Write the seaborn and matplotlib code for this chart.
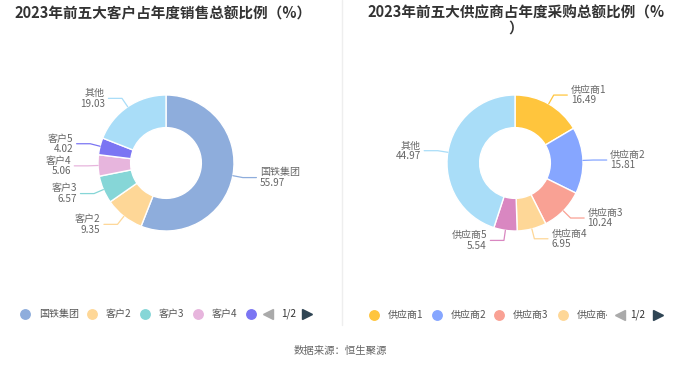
import numpy as np
import matplotlib
matplotlib.use("Agg")
import matplotlib.pyplot as plt
import seaborn as sns
from matplotlib.transforms import Bbox, TransformedBbox

sns.set_theme(style="white")
plt.rcParams['font.family'] = ['Noto Sans CJK SC', 'DejaVu Sans']

# 数据
kunden_namen = ['国铁集团', '客户2', '客户3', '客户4', '客户5', '其他']
kunden_werte = [55.97, 9.35, 6.57, 5.06, 4.02, 19.03]
kunden_farben = ['#8eaddc', '#fed797', '#86d6d7', '#e7b5dd', '#7b75f3', '#a9ddf8']

liefer_namen = ['供应商1', '供应商2', '供应商3', '供应商4', '供应商5', '其他']
liefer_werte = [16.49, 15.81, 10.24, 6.95, 5.54, 44.97]
liefer_farben = ['#ffc53d', '#86a6ff', '#f9a194', '#fed797', '#d987c1', '#a9ddf8']

titel_links = '2023年前五大客户占年度销售总额比例（%）'
titel_rechts = '2023年前五大供应商占年度采购总额比例（%\n）'
quelle = '数据来源：恒生聚源'

W, H = 680, 367
R = 68.0  # Radius in Pixel
fig = plt.figure(figsize=(W / 100, H / 100), dpi=100)
fig.patch.set_facecolor('white')


def mach_donut(cx, cy, namen, werte, farben):
    aw, ah = 320, 240
    ax = fig.add_axes([(cx - aw / 2) / W, (H - cy - ah / 2) / H, aw / W, ah / H])
    wedges, _ = ax.pie(werte, colors=farben, startangle=90, counterclock=False,
                       wedgeprops=dict(width=0.48, edgecolor='white', linewidth=1))
    ax.set_xlim(-aw / 2 / R, aw / 2 / R)
    ax.set_ylim(-ah / 2 / R, ah / 2 / R)
    ax.set_aspect('auto')
    ax.axis('off')
    for w, name, wert, farbe in zip(wedges, namen, werte, farben):
        mitte = np.deg2rad((w.theta1 + w.theta2) / 2)
        c, s = np.cos(mitte), np.sin(mitte)
        p0 = (1.0 * c, 1.0 * s)
        p1 = (1.15 * c, 1.15 * s)
        seite = 1 if c >= 0 else -1
        p2 = (p1[0] + seite * 0.2, p1[1])
        ax.plot([p0[0], p1[0], p2[0]], [p0[1], p1[1], p2[1]],
                color=farbe, lw=0.9, clip_on=False)
        ax.text(p2[0] + seite * 0.05, p2[1], f'{name}\n{wert:.2f}',
                ha='left' if seite > 0 else 'right', va='center',
                fontsize=7.2, color='#666666', linespacing=1.05)
    return ax


mach_donut(166, 163, kunden_namen, kunden_werte, kunden_farben)
mach_donut(515, 163, liefer_namen, liefer_werte, liefer_farben)

# Overlay fuer Titel, Legende, Quelle
ov = fig.add_axes([0, 0, 1, 1], zorder=-1)
ov.set_xlim(0, W)
ov.set_ylim(H, 0)
ov.axis('off')

ov.plot([342, 342], [0, 325], color='#eeeeee', lw=1)

ov.text(163, 13, titel_links, ha='center', va='center', fontsize=10.5,
        fontweight='bold', color='#333333')
ov.text(516, 20, titel_rechts, ha='center', va='center', fontsize=10.5,
        fontweight='bold', color='#333333', linespacing=1.0)


def legende(kreise, farben, namen, y, pfeil_l, seite_x, pfeil_r, clip_x=None):
    for i, (x, f) in enumerate(zip(kreise, farben)):
        ov.plot(x, y, 'o', ms=6.8, color=f, mec=f)
        if i < len(namen):
            t = ov.text(x + 14, y, namen[i], ha='left', va='center',
                        fontsize=7.2, color='#555555')
            if clip_x is not None and i == len(namen) - 1:
                box = TransformedBbox(Bbox([[0, 0], [clip_x, H]]), ov.transData)
                t.set_clip_on(True)
                t.set_clip_path(None)
                t.set_clip_box(box)
    ov.plot(pfeil_l, y, marker='<', ms=7, color='#aaaaaa', mec='#aaaaaa')
    ov.text(seite_x, y, '1/2', ha='center', va='center', fontsize=7.2,
            color='#333333')
    ov.plot(pfeil_r, y, marker='>', ms=7, color='#2f4554', mec='#2f4554')


legende([25, 92, 145, 198, 251], kunden_farben[:5], kunden_namen[:4], 314,
        268, 289, 307)
legende([374, 437, 499, 563], liefer_farben[:4], liefer_namen[:4], 315,
        620, 638, 658, clip_x=607)

ov.text(340, 351, quelle, ha='center', va='center', fontsize=7.5,
        color='#666666')

fig.savefig('out.png', dpi=100, facecolor='white')
